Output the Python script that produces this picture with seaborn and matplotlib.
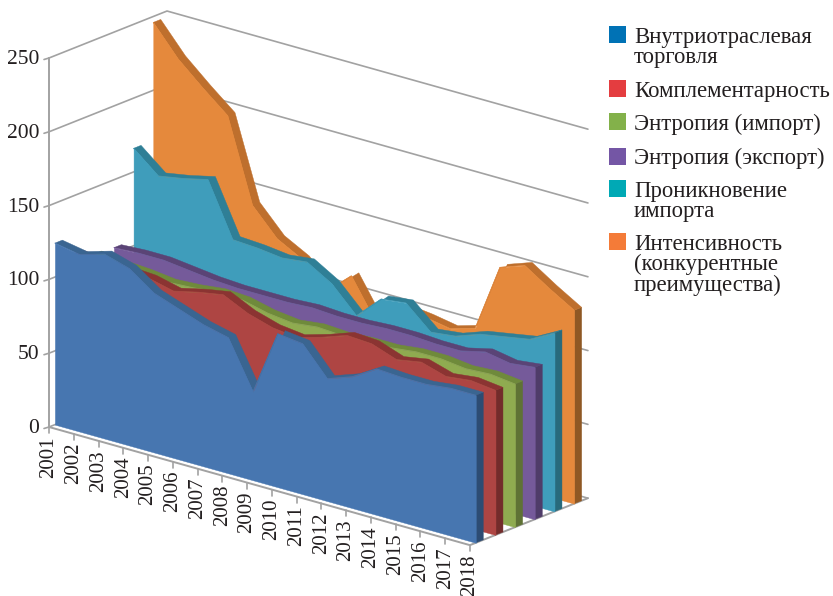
import numpy as np
import pandas as pd
import matplotlib
matplotlib.use("Agg")
import matplotlib.pyplot as plt
from matplotlib.transforms import Affine2D
from matplotlib.patches import Rectangle
import seaborn as sns

years = list(range(2001, 2019))
y_ticks = [0, 50, 100, 150, 200, 250]

intra = [123, 120, 125, 120, 108, 102, 96, 92, 60, 104, 102, 83, 89, 99, 98, 98, 100, 100]
compl = [111, 110, 109, 108, 104, 108, 111, 103, 98, 96, 101, 107, 106, 100, 103, 98, 100, 98]
ent_imp = [105, 103, 102, 100, 101, 103, 102, 98, 96, 98, 97, 98, 98, 100, 100, 98, 99, 97]
ent_exp = [104, 105, 105, 103, 101, 100, 100, 100, 101, 100, 100, 101, 101, 100, 100, 104, 101, 103]
penetr = [166, 152, 155, 159, 123, 122, 120, 122, 112, 95, 111, 113, 98, 100, 106, 109, 112, 121]
intens = [246, 226, 211, 197, 141, 123, 114, 97, 112, 85, 100, 98, 95, 100, 146, 152, 141, 131]

series = [intra, compl, ent_imp, ent_exp, penetr, intens]
labels = ["Внутриотраслевая\nторговля", "Комплементарность", "Энтропия (импорт)",
          "Энтропия (экспорт)", "Проникновение\nимпорта",
          "Интенсивность\n(конкурентные\nпреимущества)"]
faces = ["#4776B0", "#AE4543", "#8FAB50", "#755A9A", "#3F9DBB", "#E5893C"]
bands = ["#3A6591", "#8B3432", "#6F8A3B", "#5A4476", "#2F7F96", "#BE6F2D"]
sides = ["#2D4C73", "#732C2B", "#5F7235", "#4F3C69", "#286A7C", "#8F5824"]
swatches = ["#0072B5", "#E43D40", "#83B14A", "#7456A5", "#00A9B5", "#F47B38"]
swatch_top = [26, 80, 113, 148, 180, 233]
text_base = [63, 97, 130, 164, 217, 291]

sns.set_theme(style="white")
plt.rcParams["font.family"] = ["Liberation Serif", "DejaVu Serif"]
INK = "#231F20"
GRID = "#A2A2A2"

fig = plt.figure(figsize=(8.33, 5.96), dpi=100, facecolor="white")
ax = fig.add_axes([0, 0, 1, 1])
idx = np.arange(len(years), dtype=float)


def plane(depth):
    """Oblique projection of (year index, value) at a given depth slot."""
    return Affine2D.from_values(24.76, 6.95, 0, -1.476,
                                49 + 19.67 * depth, 427 - 7.83 * depth)


# walls
for v in y_ticks:
    a = plane(0).transform([(0, v)])[0]
    b = plane(6).transform([(0, v)])[0]
    c = plane(6).transform([(17, v)])[0]
    ax.plot([a[0], b[0], c[0]], [a[1], b[1], c[1]], color=GRID, lw=1.2, zorder=1)
    ax.plot([a[0] - 5, a[0]], [a[1] + 1.5, a[1]], color=GRID, lw=1.2, zorder=1)
    ax.text(a[0] - 9.5, a[1] + 1.5, str(v), ha="right", va="center", fontsize=15.5, color=INK)

p0 = plane(0).transform([(0, 0)])[0]
p1 = plane(0).transform([(0, 250)])[0]
p2 = plane(0).transform([(17, 0)])[0]
p3 = plane(6).transform([(17, 0)])[0]
ax.plot([p1[0], p0[0], p2[0], p3[0]], [p1[1], p0[1], p2[1], p3[1]], color=GRID, lw=1.4, zorder=1)

for i, yr in zip(idx, years):
    t = plane(0).transform([(i, 0)])[0]
    ax.plot([t[0], t[0]], [t[1], t[1] + 6], color=GRID, lw=1.2, zorder=1)
    ax.text(t[0], t[1] + 9, str(yr), rotation=90, ha="center", va="top",
            fontsize=15, color=INK)

# series, back to front
zo = 2
for s in range(5, -1, -1):
    vals = np.asarray(series[s], dtype=float)
    front = plane(s + 0.3)
    back = plane(s + 0.68)
    pts = np.c_[idx, vals]
    fp = front.transform(pts)
    bp = back.transform(pts)
    # end cap
    cap = np.array([front.transform([(17, vals[-1])])[0], back.transform([(17, vals[-1])])[0],
                    back.transform([(17, 0)])[0], front.transform([(17, 0)])[0]])
    ax.fill(cap[:, 0], cap[:, 1], color=sides[s], lw=0.3, zorder=zo)
    # top band
    ax.fill(np.r_[fp[:, 0], bp[::-1, 0]], np.r_[fp[:, 1], bp[::-1, 1]],
            color=bands[s], lw=0.3, zorder=zo)
    # front face
    ax.fill_between(idx, 0, vals, transform=front + ax.transData,
                    color=faces[s], lw=0.3, zorder=zo + 0.5)
    df = pd.DataFrame({"year_index": idx, "value": vals})
    sns.lineplot(data=df, x="year_index", y="value", ax=ax, color=faces[s], lw=0.5,
                 estimator=None, sort=False, legend=False,
                 transform=front + ax.transData, zorder=zo + 0.6)
    zo += 1

# legend
for top, base, col, lab in zip(swatch_top, text_base, swatches, labels):
    ax.add_patch(Rectangle((609, top), 17, 17, facecolor=col, edgecolor="none", zorder=20))
    ax.text(634, base, lab, ha="left", va="baseline", fontsize=16.4, color=INK,
            linespacing=0.96, zorder=20)

ax.set_xlim(0, 833)
ax.set_ylim(596, 0)
ax.set_axis_off()
fig.savefig("out.png", dpi=100, facecolor="white")
